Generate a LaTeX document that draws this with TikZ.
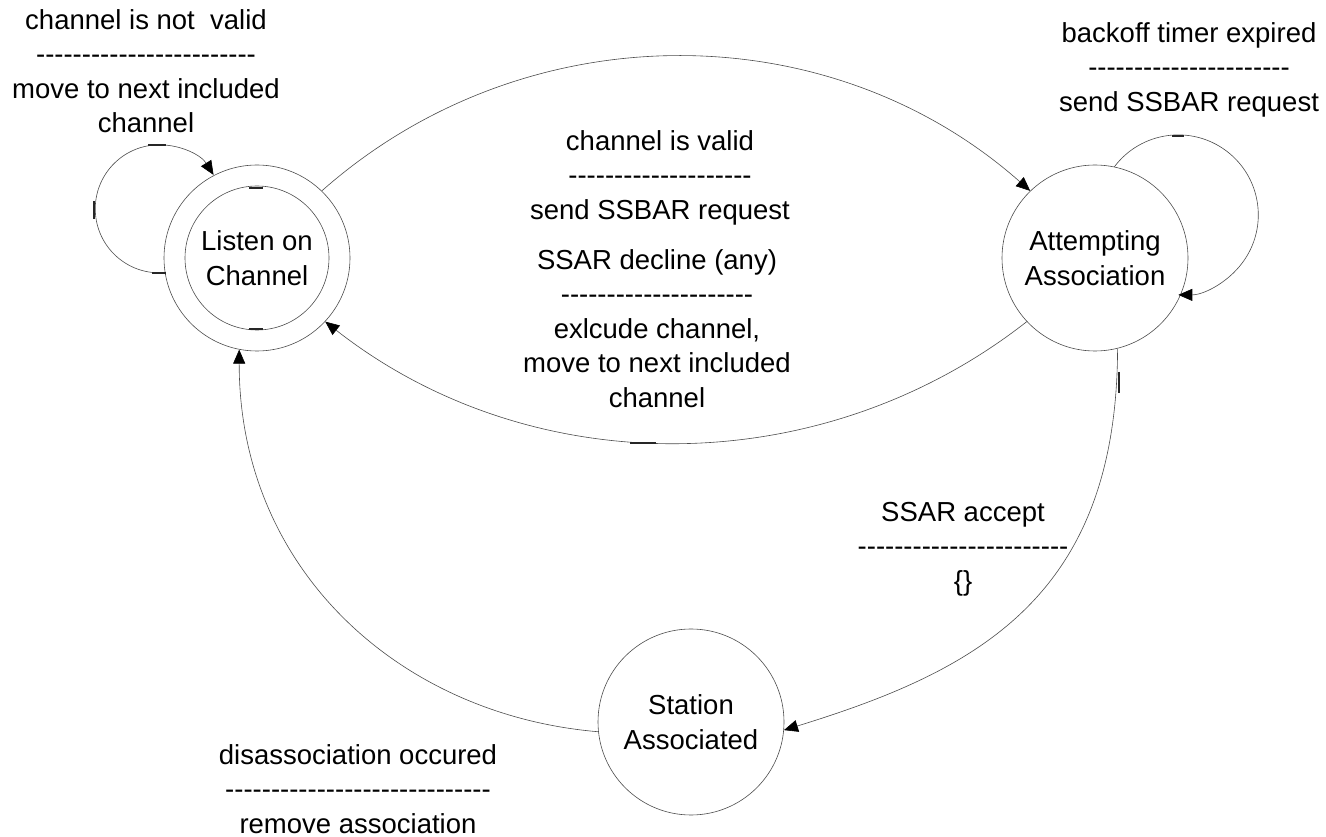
\documentclass[tikz,border=0pt]{standalone}
\usepackage{fontspec}
\setmainfont{Liberation Sans}[Ligatures=TeXOff]
\usetikzlibrary{arrows.meta}
\newcommand\diagfont{\fontsize{27.5}{34.5}\selectfont}
\begin{document}
\begin{tikzpicture}[x=1pt,y=1pt,
  wire/.style={draw=black!70, line width=0.6pt},
  state/.style={wire, circle, minimum size=186pt, inner sep=0pt, align=center, font=\diagfont},
  edge/.style={wire, -{Triangle[length=14pt,width=12pt,color=black]}},
  lbl/.style={anchor=north, inner sep=0pt, align=center, font=\diagfont},
  handle/.style={line width=1.3pt, draw=black!85}]
\useasboundingbox (0,0) rectangle (1326,836);

% states
\node[state] (L) at (257,578) {Listen on\\Channel};
\draw[wire] (L.center) circle[radius=72];
\node[state] (A) at (1095,578) {Attempting\\Association};
\node[state] (S) at (691,114) {Station\\Associated};

% transitions
\draw[edge] (L.189) arc[start angle=-85, end angle=-328, radius=64];
\draw[edge] (A.78) arc[start angle=143, end angle=-90, radius=80];
\draw[edge] (L.46) .. controls (524,824) and (828,824) .. (A.134);
\draw[edge] (A.223) .. controls (821,353) and (531,353) .. (L.-43);
\draw[edge] (A.-76) .. controls (1117,238) and (976,165) .. (S.-5);
\draw[edge] (S.186) .. controls (399,121) and (239,267) .. (L.-101);

% small handle marks on the curves
\draw[handle] (148,691) -- (166,691);
\draw[handle] (94,617) -- (94,635);
\draw[handle] (152,563) -- (166,563);
\draw[handle] (249,648) -- (263,648);
\draw[handle] (249,507) -- (263,507);
\draw[handle] (1172,700) -- (1184,700);
\draw[handle] (630,393) -- (656,393);
\draw[handle] (1119,464) -- (1119,443);

% transition labels
\node[lbl] (t1) at (146,827) {channel is not\ \ valid\\------------------------\\move to next included\\channel};
\node[lbl] (t2) at (660,706) {channel is valid\\--------------------\\send SSBAR request};
\node[lbl] (t3) at (1189,814) {backoff timer expired\\----------------------\\send SSBAR request};
\node[lbl] (t4) at (657,587) {SSAR decline (any)\\---------------------\\exlcude channel,\\move to next included\\channel};
\node[lbl] (t5) at (963,334) {SSAR accept\\-----------------------\\\{\}};
\node[lbl] (t6) at (358,92) {disassociation occured\\-----------------------------\\remove association};
\end{tikzpicture}
\end{document}
